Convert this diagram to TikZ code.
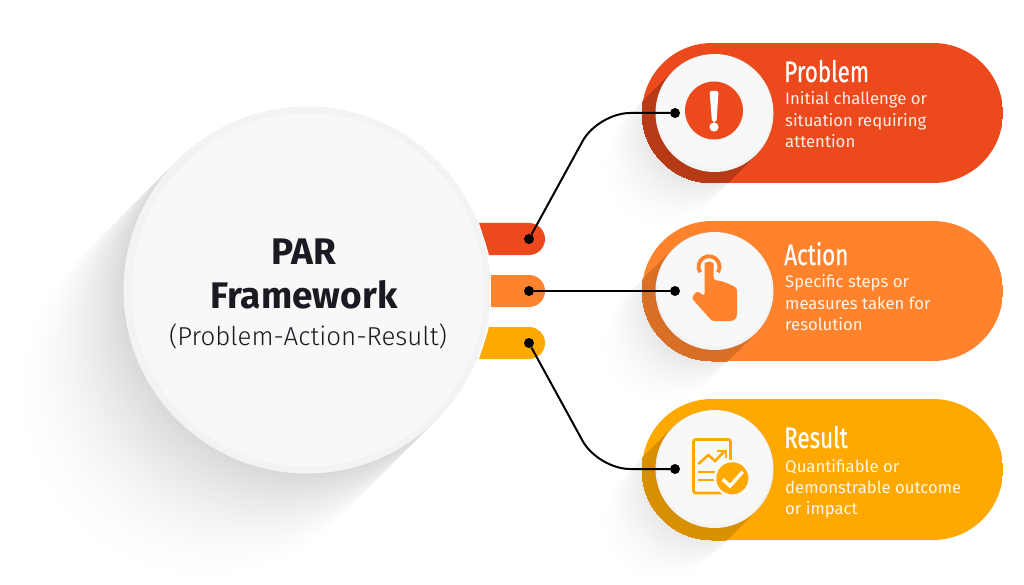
\documentclass[tikz,border=0pt]{standalone}
\usepackage{fontspec}
\setmainfont{Fira Sans}
\newfontfamily\headfont[FakeStretch=0.76,FakeBold=0.6]{Fira Sans}
\newfontfamily\subfont{Fira Sans Light}

\definecolor{parred}{HTML}{EC4A1C}
\definecolor{parorange}{HTML}{FF832C}
\definecolor{paramber}{HTML}{FFA900}
\definecolor{parink}{HTML}{1A1A22}
\definecolor{parface}{HTML}{F8F8F8}
\definecolor{parrim}{HTML}{F3F3F3}

% shadow: x, y, radius, length, colour, darkest %, lightest %
\newcommand{\longshadow}[7]{%
  \foreach \d in {#4,...,0} {
    \pgfmathsetmacro{\mix}{100-(#7+(#6-#7)*(1-\d/#4)^2)}
    \fill [color=#5!\mix!black] ({#1-\d},{#2+\d}) circle (#3);
  }}

\tikzset{
  rim/.style={circle,fill=parrim,inner sep=0pt},
  face/.style={circle,fill=parface,inner sep=0pt,minimum size=114},
  dot/.style={circle,fill=black,inner sep=0pt,minimum size=10},
  link/.style={line width=2pt,black,rounded corners=32pt},
  cardhead/.style={anchor=base west,inner sep=0pt,text=white,font=\headfont\fontsize{29.5}{32}\selectfont},
  cardtext/.style={anchor=north west,inner sep=0pt,align=left,font=\fontsize{16.7}{21.3}\selectfont}
}

\begin{document}
\begin{tikzpicture}[x=1pt,y=-1pt]
  \useasboundingbox (0,0) rectangle (1024,585);

%% shadows
  \longshadow{307}{290}{183}{115}{white}{15}{0}
  \longshadow{714.5}{113}{59}{60}{white}{13}{0}
  \longshadow{714.5}{291}{59}{60}{white}{13}{0}
  \longshadow{714.5}{469}{59}{60}{white}{13}{0}

%% tabs
  \fill [parred] (479,223) -- (529,223) arc (-90:90:16) -- (489,255) .. controls (486,244) .. (479,223) -- cycle;
  \fill [parorange] (491,275) -- (529,275) arc (-90:90:16) -- (491,307) -- cycle;
  \fill [paramber] (489,327) -- (529,327) arc (-90:90:16) -- (479,359) .. controls (486,338) .. (489,327) -- cycle;

%% cards
  \begin{scope}
    \clip [rounded corners=70pt] (642,43) rectangle (1003,183);
    \fill [parred] (642,43) rectangle (1003,183);
    \longshadow{714.5}{113}{59}{80}{parred}{23}{17}
  \end{scope}
  \begin{scope}
    \clip [rounded corners=70pt] (642,221) rectangle (1003,361);
    \fill [parorange] (642,221) rectangle (1003,361);
    \longshadow{714.5}{291}{59}{80}{parorange}{16}{11}
  \end{scope}
  \begin{scope}
    \clip [rounded corners=70pt] (642,399) rectangle (1003,540);
    \fill [paramber] (642,399) rectangle (1003,540);
    \longshadow{714.5}{469}{59}{80}{paramber}{16}{11}
  \end{scope}

%% main circle
  \node [rim,minimum size=367] (parrim) at (307,290) {};
  \node [circle,fill=parface,inner sep=0pt,minimum size=353] (parface) at (308,290) {};
  \node [anchor=base,inner sep=0pt,text=parink,font=\bfseries\fontsize{37}{40}\selectfont] (partitle) at (304,264) {PAR};
  \node [anchor=base,inner sep=0pt,text=parink,font=\bfseries\fontsize{37}{40}\selectfont] (parname) at (304,308) {Framework};
  \node [anchor=base,inner sep=0pt,text=parink,font=\subfont\fontsize{25.9}{28}\selectfont] (parsub) at (308,345) {(Problem-Action-Result)};

%% problem
  \node [rim,minimum size=118] (probrim) at (714.5,113) {};
  \node [face] (probface) at (714.5,111.5) {};
  \node [circle,fill=parred,inner sep=0pt,minimum size=58] (probicon) at (714,110.5) {};
  \fill [white,rounded corners=2pt] (709.5,91) -- (718.5,91) -- (716.5,122) -- (712,122) -- cycle;
  \fill [white] (714,127) circle (4.6);
  \node [cardhead] (probhead) at (784,82) {Problem};
  \node [cardtext,text=white!90!parred] (probtext) at (785,91.5) {Initial challenge or\\situation requiring\\attention};

%% action
  \node [rim,minimum size=118] (actrim) at (714.5,291) {};
  \node [face] (actface) at (714.5,289.5) {};
  \draw [parorange,line width=3.8pt] (700.1,272.3) arc (-212:32:10.5);
  \fill [parorange,rounded corners=2.5pt] (704.6,266) arc (-180:0:4.5) -- (713.6,280) -- (721,281) -- (729,284) -- (737,288) -- (737,317) -- (733,321) -- (712,321) -- (691.5,298) -- (697,291) -- (704.6,296) -- cycle;
  \node [cardhead] (acthead) at (784,265) {Action};
  \node [cardtext,text=white!90!parorange] (acttext) at (785,274.5) {Specific steps or\\measures taken for\\resolution};

%% result
  \node [rim,minimum size=118] (resrim) at (714.5,469) {};
  \node [face] (resface) at (714.5,467.5) {};
  \draw [paramber,line width=2.6pt,rounded corners=2pt] (693.5,439.5) rectangle (730.5,493);
  \draw [paramber,line width=2.6pt] (698.3,464) -- (708.3,455) -- (715,461) -- (724,451.7);
  \draw [paramber,line width=2.4pt] (717.3,451) -- (725.7,451) -- (725.7,458.3);
  \draw [paramber,line width=2.4pt] (698.3,471.7) -- (715,471.7);
  \draw [paramber,line width=2.4pt] (698.3,480) -- (715,480);
  \fill [parface] (732.3,478.3) circle (18.5);
  \fill [paramber] (732.3,478.3) circle (16);
  \draw [white,line width=3.4pt] (722.7,479.3) -- (730,486) -- (742.7,471.7);
  \node [cardhead] (reshead) at (784,448) {Result};
  \node [cardtext,text=white!90!paramber] (restext) at (785,459) {Quantifiable or\\demonstrable outcome\\or impact};

%% connectors
  \node [dot] (tabred) at (529,239) {};
  \node [dot] (taborange) at (529,291) {};
  \node [dot] (tabamber) at (529,343) {};
  \node [dot] (probdot) at (675,113) {};
  \node [dot] (actdot) at (675,291) {};
  \node [dot] (resdot) at (675,469) {};
  \coordinate (probbend) at (598,113);
  \coordinate (resbend) at (598,469);
  \draw [link] (tabred) -- (probbend) -- (probdot);
  \draw [link] (taborange) -- (actdot);
  \draw [link] (tabamber) -- (resbend) -- (resdot);
\end{tikzpicture}
\end{document}
